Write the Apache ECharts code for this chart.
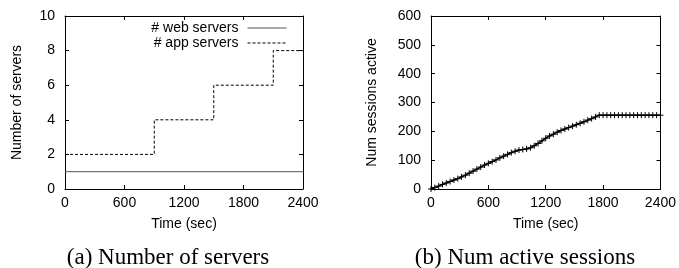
<!DOCTYPE html>
<html>
<head>
<meta charset="utf-8">
<script src="https://cdn.jsdelivr.net/npm/echarts@6/dist/echarts.min.js"></script>
<style>
  html, body { margin: 0; padding: 0; background: #fff; }
  #chart { width: 679px; height: 268px; }
</style>
</head>
<body>
<div id="chart"></div>
<script>
// (a) number of servers
var webTimes = [0, 2400];
var webServers = [1, 1];
var appTimes = [0, 900, 1500, 2100, 2400];
var appServers = [2, 4, 6, 8, 8];

// (b) active sessions, one sample every 40 sec
var sessTimes = [0, 40, 80, 120, 160, 200, 240, 280, 320, 360, 400, 440, 480, 520, 560, 600,
    640, 680, 720, 760, 800, 840, 880, 920, 960, 1000, 1040, 1080, 1120, 1160, 1200,
    1240, 1280, 1320, 1360, 1400, 1440, 1480, 1520, 1560, 1600, 1640, 1680, 1720, 1760, 1800,
    1840, 1880, 1920, 1960, 2000, 2040, 2080, 2120, 2160, 2200, 2240, 2280, 2320, 2360, 2400];
var sessCounts = [0, 5, 10, 16, 21, 26, 31, 36, 42, 48, 55, 62, 69, 76, 83, 89,
    95, 101, 108, 114, 120, 126, 131, 135, 137, 139, 143, 150, 158, 167, 176,
    184, 190, 197, 203, 208, 213, 218, 223, 228, 233, 239, 244, 250, 256, 256,
    256, 256, 256, 256, 256, 256, 256, 256, 256, 256, 256, 256, 256, 256, 256];

function pairs(xs, ys){
    var out = [];
    for (var i = 0; i < xs.length; i++) out.push([xs[i], ys[i]]);
    return out;
}

var sans = 'Liberation Sans';
var tickIn = { show: true, inside: true, length: 4, lineStyle: { color: '#000' } };
var plain = function(v){ return String(v); };

function xAxisOf(grid, pos, show){
    return {
        type: 'value', gridIndex: grid, position: pos, min: 0, max: 2400, interval: 600,
        axisLine: { show: true, onZero: false, lineStyle: { color: '#000', width: 1 } },
        axisTick: tickIn,
        splitLine: { show: false },
        axisLabel: { show: show, color: '#000', fontSize: 14, fontFamily: sans, margin: 7, formatter: plain },
        name: show ? 'Time (sec)' : '',
        nameLocation: 'middle', nameGap: 28,
        nameTextStyle: { color: '#000', fontSize: 14, fontFamily: sans }
    };
}
function yAxisOf(grid, pos, show, max, step, title, gap){
    return {
        type: 'value', gridIndex: grid, position: pos, min: 0, max: max, interval: step,
        axisLine: { show: true, onZero: false, lineStyle: { color: '#000', width: 1 } },
        axisTick: tickIn,
        splitLine: { show: false },
        axisLabel: { show: show, color: '#000', fontSize: 14, fontFamily: sans, margin: 10, formatter: plain },
        name: show ? title : '',
        nameLocation: 'middle', nameGap: gap,
        nameTextStyle: { color: '#000', fontSize: 14, fontFamily: sans }
    };
}

var chart = echarts.init(document.getElementById('chart'));
var option = {
    animation: false,
    backgroundColor: '#fff',
    title: [
        { text: '(a) Number of servers', left: 163, top: 241, textAlign: 'center',
          textStyle: { fontFamily: 'Liberation Serif', fontWeight: 'normal', fontSize: 23, color: '#000' } },
        { text: '(b) Num active sessions', left: 520, top: 241, textAlign: 'center',
          textStyle: { fontFamily: 'Liberation Serif', fontWeight: 'normal', fontSize: 23, color: '#000' } }
    ],
    legend: {
        data: ['# web servers', '# app servers'],
        orient: 'vertical', align: 'right',
        right: 387, top: 16,
        itemWidth: 39, itemHeight: 10, itemGap: 1,
        itemStyle: { opacity: 0 },
        lineStyle: { width: 1 },
        textStyle: { color: '#000', fontSize: 14, fontFamily: sans, padding: [0, 4, 0, 0] }
    },
    grid: [
        { left: 65, top: 16, width: 238, height: 173 },
        { left: 431, top: 16, width: 231, height: 173 }
    ],
    xAxis: [
        xAxisOf(0, 'bottom', true), xAxisOf(0, 'top', false),
        xAxisOf(1, 'bottom', true), xAxisOf(1, 'top', false)
    ],
    yAxis: [
        yAxisOf(0, 'left', true, 10, 2, 'Number of servers', 41),
        yAxisOf(0, 'right', false, 10, 2, '', 0),
        yAxisOf(1, 'left', true, 600, 100, 'Num sessions active', 52),
        yAxisOf(1, 'right', false, 600, 100, '', 0)
    ],
    series: [
        {
            name: '# web servers', type: 'line', xAxisIndex: 0, yAxisIndex: 0,
            data: pairs(webTimes, webServers), symbol: 'none',
            lineStyle: { color: '#555', width: 1 }, itemStyle: { color: '#555' }
        },
        {
            name: '# app servers', type: 'line', xAxisIndex: 0, yAxisIndex: 0, step: 'end',
            data: pairs(appTimes, appServers), symbol: 'none',
            lineStyle: { color: '#000', width: 1, type: [3, 2] }, itemStyle: { color: '#000' }
        },
        {
            name: 'sessions', type: 'line', xAxisIndex: 2, yAxisIndex: 2,
            data: pairs(sessTimes, sessCounts),
            symbol: 'path://M0,5L10,5M5,0L5,10', symbolSize: 6,
            itemStyle: { color: '#000', borderColor: '#000', borderWidth: 1 },
            lineStyle: { color: '#000', width: 1.5 }
        }
    ]
};
chart.setOption(option);
</script>
</body>
</html>
